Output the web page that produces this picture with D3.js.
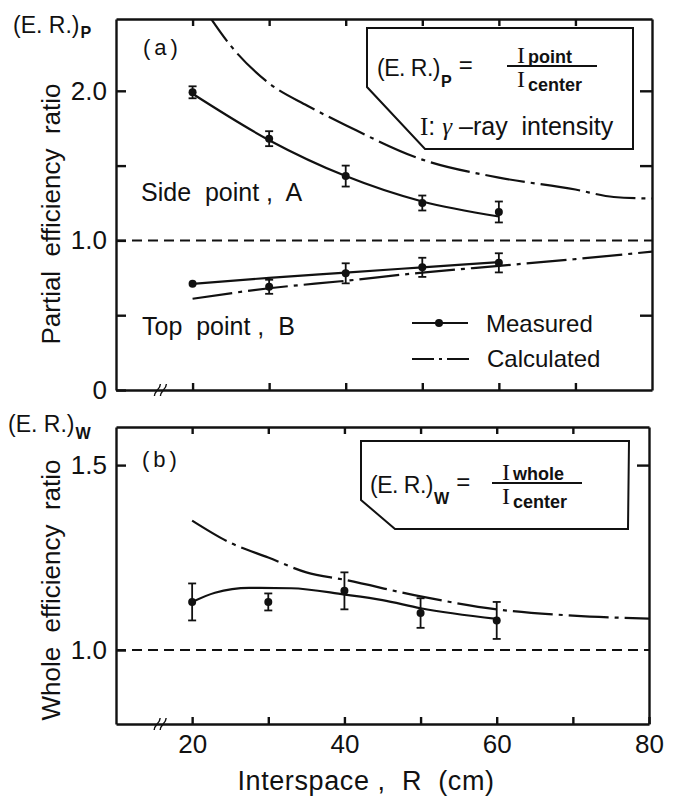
<!DOCTYPE html>
<html>
<head>
<meta charset="utf-8">
<script src="https://cdn.jsdelivr.net/npm/d3@7"></script>
<style>
  body { margin: 0; background: #fff; }
  svg { display: block; font-family: "Liberation Sans", Arial, sans-serif; }
  text { white-space: pre; fill: #111; }
</style>
</head>
<body>
<div id="chart"></div>
<script>
// interspace R (cm)
var xTicks = [20, 30, 40, 50, 60, 70];
var xLabels = [20, 40, 60, 80];
var measR = [20, 30, 40, 50, 60];

// (a) partial efficiency ratio
var sideMeas = [1.99, 1.68, 1.43, 1.25, 1.19];
var sideErr = [0.04, 0.05, 0.07, 0.05, 0.07];
var sideFit = [1.98, 1.67, 1.43, 1.26, 1.16];
var sideCalcR = [21.5, 25, 30, 35, 40, 50, 60, 70, 75, 80];
var sideCalc = [2.55, 2.30, 2.05, 1.90, 1.77, 1.54, 1.42, 1.34, 1.29, 1.28];
var topMeas = [0.71, 0.69, 0.78, 0.82, 0.85];
var topErr = [0, 0.047, 0.067, 0.064, 0.064];
var topFit = [0.71, 0.75, 0.785, 0.82, 0.855];
var topCalcR = [20, 30, 40, 50, 60, 70, 80];
var topCalc = [0.61, 0.68, 0.73, 0.785, 0.83, 0.875, 0.925];
var yTicksA = [0, 0.5, 1.0, 1.5, 2.0];
var yLabelsA = [0, 1.0, 2.0];

// (b) whole efficiency ratio
var wholeMeas = [1.13, 1.13, 1.16, 1.10, 1.08];
var wholeErr = [0.05, 0.023, 0.05, 0.04, 0.05];
var wholeFitR = [20, 23, 27.5, 33, 40, 45, 50, 60];
var wholeFit = [1.13, 1.155, 1.168, 1.167, 1.15, 1.135, 1.113, 1.084];
var wholeCalcR = [20, 25, 30, 35, 40, 50, 60, 70, 80];
var wholeCalc = [1.35, 1.29, 1.25, 1.21, 1.19, 1.145, 1.11, 1.093, 1.085];
var yTicksB = [1.0, 1.5];
var yLabelsB = [1.0, 1.5];

var ink = "#111";
var dashDot = "40,6,4,6";
var sans = "Liberation Sans, Arial, sans-serif";
var serif = "Liberation Serif, serif";

var svg = d3.select("#chart").append("svg")
    .attr("width", 680)
    .attr("height", 798);

const fmt = (d) => d == 0 ? "0" : d3.format(".1f")(d);

const makePanel = (box, yDomain, yTicks, yLabels, xLab, id) => {
  var w = box.right - box.left, h = box.bottom - box.top;
  var x = d3.scaleLinear().domain([10, 80]).range([0, w]);
  var y = d3.scaleLinear().domain(yDomain).range([h, 0]);
  var g = svg.append("g")
      .attr("transform", "translate(" + box.left + "," + box.top + ")");

  g.append("clipPath").attr("id", id)
    .append("rect").attr("width", w).attr("height", h);

  var bottomTicks = xLab ? xTicks.concat([80]) : xTicks;
  g.append("g").attr("class", "axis")
      .attr("transform", "translate(0," + h + ")")
      .call(d3.axisBottom(x).tickValues(bottomTicks).tickSizeInner(-7).tickSizeOuter(0).tickPadding(11)
        .tickFormat((d) => xLab && xLabels.indexOf(d) >= 0 ? d : ""));
  g.append("g").attr("class", "axis")
      .call(d3.axisTop(x).tickValues(xTicks).tickSizeInner(-7).tickSizeOuter(0).tickFormat(""));
  g.append("g").attr("class", "axis")
      .call(d3.axisLeft(y).tickValues(yTicks).tickSizeInner(-10).tickSizeOuter(0).tickPadding(9)
        .tickFormat((d) => yLabels.indexOf(d) >= 0 ? fmt(d) : ""));
  g.append("g").attr("class", "axis")
      .attr("transform", "translate(" + w + ",0)")
      .call(d3.axisRight(y).tickValues(yTicks.filter((d) => d != 1 && d != 0)).tickSizeInner(-12).tickSizeOuter(0).tickFormat(""));

  g.selectAll(".axis path, .axis line").attr("stroke", ink).attr("stroke-width", 2.4);
  g.selectAll(".axis text").attr("font-family", sans)
      .attr("font-size", 26).attr("fill", ink);

  // axis break
  var bx = x(15.8);
  g.selectAll(".brk").data([-3, 3]).enter().append("path")
      .attr("d", (o) => "M" + (bx + o - 3) + "," + (h + 6) + "C" + (bx + o - 3) + "," + (h + 1) + " " + (bx + o + 3) + "," + (h - 1) + " " + (bx + o + 3) + "," + (h - 6))
      .attr("fill", "none").attr("stroke", ink).attr("stroke-width", 1.4);

  // reference line at 1.0
  g.append("line")
      .attr("x1", 0).attr("x2", w)
      .attr("y1", y(1)).attr("y2", y(1))
      .attr("stroke", ink).attr("stroke-width", 2).attr("stroke-dasharray", "10,6");

  return {g: g, x: x, y: y, w: w, h: h, clip: "url(#" + id + ")"};
};

const curve = (p, rs, vs, dash) => {
  var line = d3.line().x((d) => p.x(d[0])).y((d) => p.y(d[1])).curve(d3.curveMonotoneX);
  p.g.append("path")
      .datum(d3.zip(rs, vs))
      .attr("clip-path", p.clip)
      .attr("d", line)
      .attr("fill", "none")
      .attr("stroke", ink)
      .attr("stroke-width", 2.2)
      .attr("stroke-dasharray", dash || null);
};

const points = (p, vs, errs) => {
  var data = d3.zip(measR, vs, errs);
  var e = p.g.append("g").selectAll("g").data(data).enter().append("g");
  e.append("line")
      .attr("x1", (d) => p.x(d[0])).attr("x2", (d) => p.x(d[0]))
      .attr("y1", (d) => p.y(d[1] - d[2])).attr("y2", (d) => p.y(d[1] + d[2]))
      .attr("stroke", ink).attr("stroke-width", 1.8);
  e.filter((d) => d[2] > 0).selectAll(".cap").data((d) => [[d[0], d[1] - d[2]], [d[0], d[1] + d[2]]])
    .enter().append("line")
      .attr("x1", (d) => p.x(d[0]) - 4).attr("x2", (d) => p.x(d[0]) + 4)
      .attr("y1", (d) => p.y(d[1])).attr("y2", (d) => p.y(d[1]))
      .attr("stroke", ink).attr("stroke-width", 1.8);
  e.append("circle")
      .attr("cx", (d) => p.x(d[0])).attr("cy", (d) => p.y(d[1]))
      .attr("r", 4).attr("fill", ink);
};

// ---- panel (a)
var pa = makePanel({left: 116, right: 652, top: 19, bottom: 390}, [0, 2.48], yTicksA, yLabelsA, false, "clipA");
curve(pa, sideCalcR, sideCalc, dashDot);
curve(pa, measR, sideFit);
points(pa, sideMeas, sideErr);
curve(pa, topCalcR, topCalc, dashDot);
curve(pa, measR, topFit);
points(pa, topMeas, topErr);

// ---- panel (b)
var pb = makePanel({left: 116, right: 649, top: 427, bottom: 724}, [0.8, 1.603], yTicksB, yLabelsB, true, "clipB");
curve(pb, wholeCalcR, wholeCalc, dashDot);
curve(pb, wholeFitR, wholeFit);
points(pb, wholeMeas, wholeErr);

// ---- texts
const label = (x, y, s, size, extra) => {
  var t = svg.append("text").attr("x", x).attr("y", y).attr("font-size", size).text(s);
  if (extra) extra(t);
  return t;
};
const widthOf = (t) => t.node().getComputedTextLength();

label(143, 55, "(a)", 22, (t) => t.attr("letter-spacing", 4));
label(142, 467, "(b)", 22, (t) => t.attr("letter-spacing", 4));
label(141, 201, "Side  point ,  A", 25);
label(142, 335, "Top  point ,  B", 25);

// legend
var lg = svg.append("g");
lg.append("line").attr("x1", 412).attr("x2", 468).attr("y1", 323).attr("y2", 323)
    .attr("stroke", ink).attr("stroke-width", 2.2);
lg.append("circle").attr("cx", 439).attr("cy", 323).attr("r", 4).attr("fill", ink);
lg.append("line").attr("x1", 412).attr("x2", 470).attr("y1", 359).attr("y2", 359)
    .attr("stroke", ink).attr("stroke-width", 2.2).attr("stroke-dasharray", "22,5,3,5");
label(486, 332, "Measured", 24);
label(487, 367, "Calculated", 24);

// axis titles
label(0, 0, "Partial  efficiency  ratio", 26, (t) => t.attr("text-anchor", "middle")
    .attr("transform", "translate(60,214) rotate(-90)"));
label(0, 0, "Whole  efficiency  ratio", 26, (t) => t.attr("text-anchor", "middle")
    .attr("transform", "translate(60,590) rotate(-90)"));
label(366, 790, "Interspace ,  R  (cm)", 27, (t) => t.attr("text-anchor", "middle").attr("letter-spacing", 0.6));

// (E.R.) with bold subscript, returns right end
const er = (x, y, sub, size, subDy, spacing) => {
  var t = label(x, y, "(E. R.)", size, (t) => t.attr("letter-spacing", spacing || 0));
  var x2 = x + widthOf(t) + 1;
  var s = label(x2, y + subDy, sub, size * 0.7, (t) => t.attr("font-weight", "bold"));
  return x2 + widthOf(s);
};
er(13, 33, "P", 23, 5);
er(8, 432, "W", 23, 7);

// formula boxes
const box = (pts) => {
  svg.append("path").attr("d", d3.line()(pts) + "Z")
      .attr("fill", "none").attr("stroke", ink).attr("stroke-width", 2);
};
box([[367, 28], [633, 28], [633, 149], [425, 149], [367, 87]]);
box([[361, 441], [629, 441], [628, 529], [395, 529], [361, 500]]);

const fraction = (x, eqY, lineX1, lineX2, lineY, num) => {
  var end = er(x, eqY, num == "point" ? "P" : "W", 23, 11, -0.5);
  label(end + 7, eqY - 3, "=", 24);
  svg.append("line").attr("x1", lineX1).attr("x2", lineX2).attr("y1", lineY).attr("y2", lineY)
      .attr("stroke", ink).attr("stroke-width", 2);
  var n = label(lineX1 + 10, lineY - 3, "I", 24, (t) => t.attr("font-family", serif));
  n.append("tspan").attr("dx", 3).attr("font-size", 18).attr("font-weight", "bold")
      .attr("font-family", sans).text(num);
  var c = label(lineX1 + 10, lineY + 21, "I", 24, (t) => t.attr("font-family", serif));
  c.append("tspan").attr("dx", 3).attr("dy", 4).attr("font-size", 18).attr("font-weight", "bold")
      .attr("font-family", sans).text("center");
};
fraction(377, 76, 507, 597, 66, "point");
fraction(370, 493, 492, 582, 483, "whole");

var it = label(420, 135, "I", 25, (t) => t.attr("font-family", serif));
it.append("tspan").attr("font-family", sans).text(": ");
it.append("tspan").attr("font-family", serif).attr("font-style", "italic").text("γ");
it.append("tspan").attr("font-family", sans).text(" –ray  intensity");
</script>
</body>
</html>
